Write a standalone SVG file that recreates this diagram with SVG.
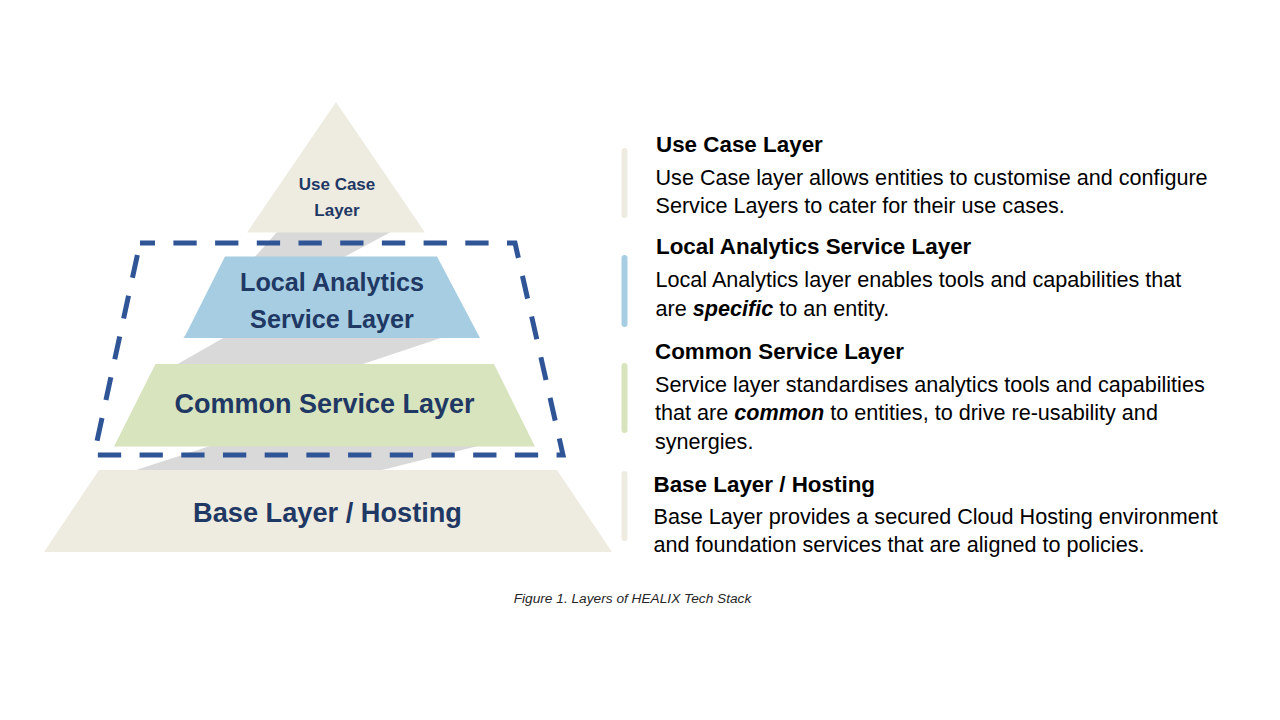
<svg xmlns="http://www.w3.org/2000/svg" width="1280" height="720" viewBox="0 0 1280 720">
<style>
.tan{fill:#EEECE1}
.blue{fill:#A6CDE1}
.green{fill:#D8E4BD}
.ribbon{fill:#D9D9D9}
.lbl{font-family:"Liberation Sans",Arial,sans-serif;font-weight:bold;fill:#1F3864;text-anchor:middle}
.hd{font-family:"Liberation Sans",Arial,sans-serif;font-weight:bold;font-size:22.4px;fill:#000}
.bd{font-family:"Liberation Sans",Arial,sans-serif;font-size:21.6px;fill:#000}
.em{font-weight:bold;font-style:italic}
.bar{stroke-width:6;stroke-linecap:round;fill:none}
.cap{font-family:"Liberation Sans",Arial,sans-serif;font-style:italic;font-size:13.7px;fill:#262626;text-anchor:middle}
</style>
<rect width="1280" height="720" fill="#FFFFFF"/>
<g id="ribbons">
<polygon class="ribbon" points="277,232 391,232 344,257 200,338 183,338"/>
<polygon class="ribbon" points="225,337 444,337 360,365 176,365"/>
<polygon class="ribbon" points="210,446 478,446 382,470 136,470"/>
</g>
<g id="node-usecase">
<polygon class="tan" points="336,102 425,232.5 247,232.5"/>
<text class="lbl" font-size="17" x="337" y="190">Use Case</text>
<text class="lbl" font-size="17" x="337" y="216">Layer</text>
</g>
<g id="node-local">
<polygon class="blue" points="225,256.5 437,256.5 480,338 184,338"/>
<text class="lbl" font-size="25.2" x="332" y="291">Local Analytics</text>
<text class="lbl" font-size="25.2" x="332" y="327.5">Service Layer</text>
</g>
<g id="node-common">
<polygon class="green" points="155.5,364 494,364 535,446.5 114,446.5"/>
<text class="lbl" font-size="27" x="324.5" y="413">Common Service Layer</text>
</g>
<g id="node-base">
<polygon class="tan" points="99,470 557,470 612,552 44,552"/>
<text class="lbl" font-size="27.2" x="327.5" y="522">Base Layer / Hosting</text>
</g>
<g id="group-box">
<polygon points="140,243 515,243 563,455 94,455" fill="none" stroke="#2F5597" stroke-width="5" stroke-dasharray="23.3 18.4" stroke-dashoffset="8.3" stroke-linejoin="miter"/>
</g>
<g id="desc-usecase">
<line class="bar" stroke="#EEECE1" x1="624.5" y1="151" x2="624.5" y2="215"/>
<text class="hd" x="656" y="152">Use Case Layer</text>
<text class="bd" x="655.5" y="185">Use Case layer allows entities to customise and configure</text>
<text class="bd" x="655.5" y="213">Service Layers to cater for their use cases.</text>
</g>
<g id="desc-local">
<line class="bar" stroke="#A6CDE1" x1="624.5" y1="258" x2="624.5" y2="324"/>
<text class="hd" x="656" y="253.5">Local Analytics Service Layer</text>
<text class="bd" x="655.5" y="287">Local Analytics layer enables tools and capabilities that</text>
<text class="bd" x="655.5" y="315.5">are <tspan class="em">specific</tspan> to an entity.</text>
</g>
<g id="desc-common">
<line class="bar" stroke="#D8E4BD" x1="624.5" y1="366" x2="624.5" y2="430"/>
<text class="hd" x="655" y="358.5">Common Service Layer</text>
<text class="bd" x="655" y="392">Service layer standardises analytics tools and capabilities</text>
<text class="bd" x="655" y="420">that are <tspan class="em">common</tspan> to entities, to drive re-usability and</text>
<text class="bd" x="655" y="448.5">synergies.</text>
</g>
<g id="desc-base">
<line class="bar" stroke="#EEECE1" x1="624.5" y1="474" x2="624.5" y2="538"/>
<text class="hd" x="653.5" y="491.5">Base Layer / Hosting</text>
<text class="bd" x="653.5" y="523.5">Base Layer provides a secured Cloud Hosting environment</text>
<text class="bd" x="653.5" y="552">and foundation services that are aligned to policies.</text>
</g>
<text class="cap" x="632.5" y="603">Figure 1. Layers of HEALIX Tech Stack</text>
</svg>
